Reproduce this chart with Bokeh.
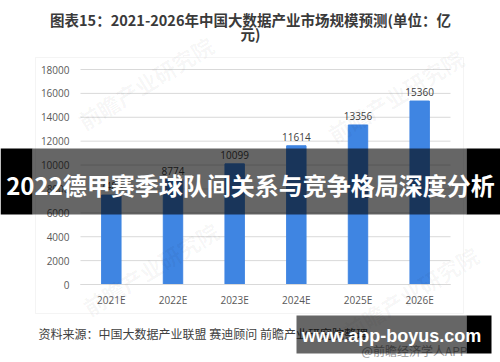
from bokeh.plotting import figure
from bokeh.models import (ColumnDataSource, Range1d, FixedTicker, LinearAxis,
                          BoxAnnotation, Label)
from bokeh.core.properties import value
from bokeh.embed import file_html
from bokeh.resources import INLINE

# ---- data ----
categories = ["2021E", "2022E", "2023E", "2024E", "2025E", "2026E"]
market_size = [7486, 8774, 10099, 11614, 13356, 15360]
y_ticks = [0, 2000, 4000, 6000, 8000, 10000, 12000, 14000, 16000, 18000]

title_line1 = "图表15：2021-2026年中国大数据产业市场规模预测(单位：亿"
title_line2 = "元)"
banner_text = "2022德甲赛季球队间关系与竞争格局深度分析"
source_text = "资料来源：中国大数据产业联盟 赛迪顾问 前瞻产业研究院整理"
site_text = "www.app-boyus.com"
app_text = "@前瞻经济学人APP"
watermark_text = "前瞻产业研究院"

W, H = 500, 362
CJK = "Noto Sans CJK SC"

# plot-area placement (pixels) inside the full-canvas frame
PL, PR, PT, PB = 80, 450, 69, 284
n = len(categories)
ymax = y_ticks[-1]
ux = (PR - PL) / n
uy = (PB - PT) / ymax
x_range = Range1d(-PL / ux, n + (W - PR) / ux)
y_range = Range1d(-(H - PB) / uy, ymax + PT / uy)

xpos = [i + 0.5 for i in range(n)]
src = ColumnDataSource(dict(x=xpos, val=market_size,
                            lab=[str(v) for v in market_size]))

p = figure(width=W, height=H, output_backend="svg", toolbar_location=None,
           x_range=x_range, y_range=y_range, x_axis_type=None,
           y_axis_type=None, min_border=0)
p.min_border_left = p.min_border_right = 0
p.min_border_top = p.min_border_bottom = 0
p.outline_line_color = None
p.background_fill_color = "white"
p.border_fill_color = "white"
p.xgrid.visible = False
p.ygrid.visible = False

# horizontal gridlines across the plot area
p.segment(x0=[0] * len(y_ticks), x1=[n] * len(y_ticks), y0=y_ticks,
          y1=y_ticks, line_color="#d9d9d9", line_width=1)

p.vbar(x="x", top="val", width=0.315, source=src, color="#3F85E2")
p.text(x="x", y="val", text="lab", source=src, text_align="center",
       text_baseline="bottom", y_offset=-5, text_font_size="10px",
       text_color="#404040", text_font=value("Open Sans"))

yaxis = LinearAxis(ticker=FixedTicker(ticks=y_ticks), fixed_location=0,
                   bounds=(0, ymax))
yaxis.axis_line_color = None
yaxis.major_tick_line_color = None
yaxis.minor_tick_line_color = None
yaxis.major_tick_out = 0
yaxis.major_tick_in = 0
yaxis.major_label_standoff = 11
yaxis.major_label_text_font_size = "10px"
yaxis.major_label_text_color = "#595959"
yaxis.major_label_text_font = "Open Sans"
p.add_layout(yaxis, "left")

xaxis = LinearAxis(ticker=FixedTicker(ticks=xpos), fixed_location=0,
                   bounds=(0, n),
                   major_label_overrides={x: c for x, c in zip(xpos, categories)})
xaxis.axis_line_color = "#d9d9d9"
xaxis.major_tick_line_color = None
xaxis.minor_tick_line_color = None
xaxis.major_tick_out = 0
xaxis.major_tick_in = 0
xaxis.major_label_standoff = 8
xaxis.major_label_text_font_size = "10px"
xaxis.major_label_text_color = "#595959"
xaxis.major_label_text_font = "Open Sans"
p.add_layout(xaxis, "below")


def label(x, y, text, **kw):
    p.add_layout(Label(x=x, y=y, x_units="canvas", y_units="canvas",
                       text=text, **kw))


def box(l, r, t, b, color, alpha, line=None):
    p.add_layout(BoxAnnotation(left=l, right=r, top=t, bottom=b,
                               left_units="canvas", right_units="canvas",
                               top_units="canvas", bottom_units="canvas",
                               fill_color=color, fill_alpha=alpha,
                               line_color=line))


# watermarks
for (wx, wy) in [(145, 82), (395, 95), (150, 268), (410, 292)]:
    label(wx, wy, watermark_text, text_align="center", text_baseline="middle",
          angle=0.55, text_font=CJK, text_font_size="22px",
          text_font_style="bold", text_color="#000000", text_alpha=0.04)

# chart frame
box(35, 463, 57, 313, None, 0, line="#d9d9d9")

# title
label(250, 18.5, title_line1, text_align="center", text_baseline="middle",
      text_font=CJK, text_font_size="14.5px", text_font_style="bold",
      text_color="#3a3a3a")
label(250, 33, title_line2, text_align="center", text_baseline="middle",
      text_font=CJK, text_font_size="14.5px", text_font_style="bold",
      text_color="#3a3a3a")

# source
label(38, 333, source_text, text_align="left", text_baseline="middle",
      text_font=CJK, text_font_size="12px", text_color="#404040")

# banner
box(0, 32, 148, 214, "black", 1.0)
box(32, 466, 148, 214, "black", 0.6)
box(466, 500, 148, 214, "black", 1.0)
label(250, 184, banner_text, text_align="center", text_baseline="middle",
      text_font=CJK, text_font_size="24px", text_font_style="bold",
      text_color="white")

# site box
label(414, 350, app_text, text_align="center", text_baseline="middle",
      text_font=CJK, text_font_size="12px", text_color="#9a9a9a")
box(296, 466, 315, 353, "black", 0.6)
box(466, 491, 315, 353, "black", 1.0)
label(391, 335, site_text, text_align="center", text_baseline="middle",
      text_font="Liberation Sans", text_font_size="18px",
      text_font_style="bold", text_color="white")

open("out.html", "w").write(file_html(p, INLINE))
